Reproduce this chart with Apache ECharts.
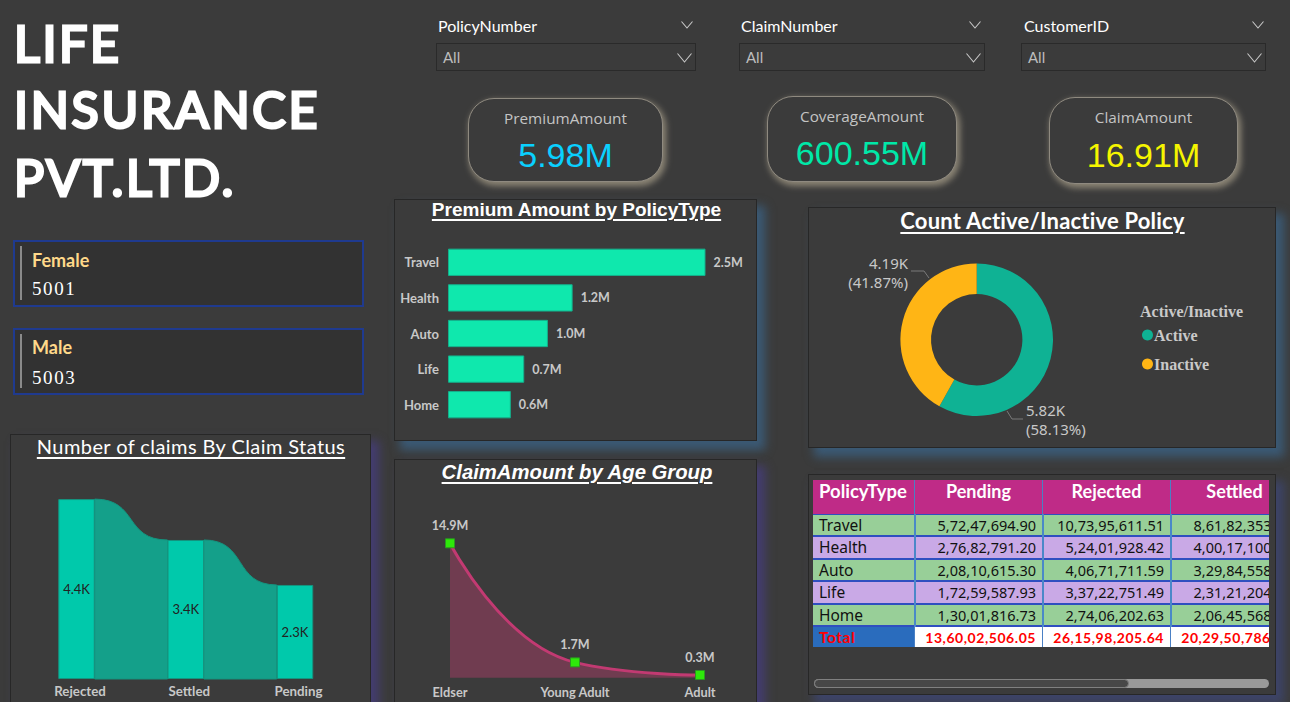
<!DOCTYPE html>
<html><head><meta charset="utf-8">
<script src="https://cdn.jsdelivr.net/npm/echarts@6/dist/echarts.min.js"></script>
<style>
html,body{margin:0;padding:0;background:#3b3b3b;width:1290px;height:702px;overflow:hidden}
.a{position:absolute;box-sizing:border-box;white-space:nowrap}
.panel{background:#3b3b3b;border:1px solid #272727}
.sb{box-shadow:7px 8px 9px 1px #3b5a75}
.sp{box-shadow:7px 8px 9px 1px #443d70}
.t{color:#fff;text-decoration:underline;text-align:center;text-decoration-thickness:1.5px;text-underline-offset:3px}
.hd{color:#fff;font:16px Lato}
.box{border:1px solid #2a2a2a;background:#3b3b3b;color:#bdbdbd;font:15px Lato;padding:4px 6px}
.card{border-radius:26px;border:1px solid #8f8a80;box-shadow:2px 3px 6px 1px #8d8676;background:#3b3b3b;text-align:center}
.cl{position:absolute;left:0;right:0;color:#c4c4c4;font:15.3px "Open Sans"}
.cv{position:absolute;left:0;right:0;font:34px "Liberation Sans"}
.g{background:#323232;border:2px solid #1f3a8f}
.gb{position:absolute;left:5px;top:4px;width:2px;height:54px;background:#8a8a8a}
.gl{position:absolute;left:17px;color:#ffd98a;font:bold 18px Lato}
.gv{position:absolute;left:17px;color:#fff;font:19px "Liberation Serif";letter-spacing:1.6px}
#tb div{position:absolute;box-sizing:border-box;overflow:hidden;white-space:nowrap}
svg{position:absolute}
</style></head><body>
<div id="page"></div>
<div id="main" class="a" style="left:0;top:0;width:1290px;height:702px"></div>
<script>
// Data
const titleLines = ['LIFE', 'INSURANCE', 'PVT.LTD.'];
const slicerNames = ['PolicyNumber', 'ClaimNumber', 'CustomerID'];
const cardLabels = ['PremiumAmount', 'CoverageAmount', 'ClaimAmount'];
const cardValues = ['5.98M', '600.55M', '16.91M'];
const genderLabels = ['Female', 'Male'];
const genderValues = ['5001', '5003'];
const claimStatus = ['Rejected', 'Settled', 'Pending'];
const claimCounts = [4400, 3400, 2300];
const policyTypes = ['Travel', 'Health', 'Auto', 'Life', 'Home'];
const premiumM = [2.50, 1.21, 0.97, 0.74, 0.61];
const ageGroups = ['Eldser', 'Young Adult', 'Adult'];
const claimAmountM = [14.9, 1.7, 0.3];
const activeNames = ['Active', 'Inactive'];
const activeCounts = [5820, 4192];
const tableColumns = ['PolicyType', 'Pending', 'Rejected', 'Settled'];
const pendingCol = ['5,72,47,694.90', '2,76,82,791.20', '2,08,10,615.30', '1,72,59,587.93', '1,30,01,816.73'];
const rejectedCol = ['10,73,95,611.51', '5,24,01,928.42', '4,06,71,711.59', '3,37,22,751.49', '2,74,06,202.63'];
const settledCol = ['8,61,82,353', '4,00,17,100', '3,29,84,558', '2,31,21,204', '2,06,45,568'];
const totalRow = ['Total', '13,60,02,506.05', '26,15,98,205.64', '20,29,50,786'];

// Page furniture
const page = document.getElementById('page');
let h = '';
const chev = (x, y, w, hh, c) => `<svg style="left:${x}px;top:${y}px" width="${w}" height="${hh}"><polyline points="0.5,0.5 ${w/2},${hh-1} ${w-0.5},0.5" fill="none" stroke="${c}" stroke-width="1.1"/></svg>`;
// title
[[14, 13], [14, 79], [14, 147]].forEach((p, i) => {
  h += `<div class="a" style="left:${p[0]}px;top:${p[1]}px;color:#fff;font:400 50px 'Lato';letter-spacing:2.7px;-webkit-text-stroke:3px #fff;stroke-linejoin:round" id="tl${i}">${titleLines[i]}</div>`;
});
// gender cards
[240, 328].forEach((y, i) => {
  h += `<div class="a g" style="left:13px;top:${y}px;width:351px;height:67px"><div class="gb"></div>
  <div class="gl" style="top:${i ? 6 : 7}px">${genderLabels[i]}</div><div class="gv" style="top:${i ? 37 : 36}px">${genderValues[i]}</div></div>`;
});
// slicers
[[438, 436, 260, 681], [741, 739, 246, 969], [1024, 1021, 245, 1252]].forEach((s, i) => {
  h += `<div class="a hd" style="left:${s[0]}px;top:16px">${slicerNames[i]}</div>` + chev(s[3], 21, 12, 8, '#c8c8c8');
  h += `<div class="a box" style="left:${s[1]}px;top:43px;width:${s[2]}px;height:28px">All</div>` + chev(s[1] + s[2] - 19, 53, 15, 10, '#c8c8c8');
});
// KPI cards
[[468, 98, 195, 84, '#0ad0ff', 9, 37], [767, 96, 190, 86, '#00e8a8', 9, 37], [1049, 97, 189, 87, '#f5f500', 9, 38]].forEach((c, i) => {
  h += `<div class="a card" style="left:${c[0]}px;top:${c[1]}px;width:${c[2]}px;height:${c[3]}px">
  <div class="cl" style="top:${c[5]}px">${cardLabels[i]}</div><div class="cv" style="top:${c[6]}px;color:${c[4]}">${cardValues[i]}</div></div>`;
});
// chart panels
h += `<div class="a panel sp" style="left:10px;top:434px;width:361px;height:300px"></div>`;
h += `<div class="a panel sb" style="left:394px;top:199px;width:363px;height:242px"></div>`;
h += `<div class="a panel sp" style="left:394px;top:459px;width:363px;height:300px"></div>`;
h += `<div class="a panel sb" style="left:808px;top:207px;width:468px;height:241px"></div>`;
h += `<div class="a panel" style="left:808px;top:474px;width:468px;height:221px;box-shadow:7px 8px 9px 1px #3d4468"></div>`;
// chart titles
h += `<div class="a t" style="left:10px;width:362px;top:434px;font:20px Lato;letter-spacing:.42px">Number of claims By Claim Status</div>`;
h += `<div class="a t" style="width:654px;left:249.5px;top:199px;font:bold 19px 'Liberation Sans'">Premium Amount by PolicyType</div>`;
h += `<div class="a t" style="left:250px;width:654px;top:461px;font:italic bold 20.3px 'Liberation Sans'">ClaimAmount by Age Group</div>`;
h += `<div class="a t" style="width:754px;left:665.5px;top:207px;font:bold 22px Lato;letter-spacing:.2px">Count Active/Inactive Policy</div>`;
h += `<div class="a" style="left:1140px;top:303px;color:#c9c9c9;font:bold 16px 'Liberation Serif'">Active/Inactive</div>`;
page.innerHTML = h;

// table
const colX = [813, 915, 1043, 1171], colW = [101, 127, 127, 127];
const rowY = [515, 537, 560, 582, 605], rowH = [20, 21, 20, 21, 20];
let t = `<div id="tb" class="a" style="left:813px;top:480px;width:456px;height:167px;overflow:hidden;background:#4a80c4">`;
const cell = (i, y, hh, bg, css, txt, hid) => `<div style="left:${colX[i]-813}px;top:${y-480}px;width:${colW[i]}px;height:${hh}px;background:${bg};${css}">${txt}${hid ? '<span style="visibility:hidden">.00</span>' : ''}</div>`;
tableColumns.forEach((c, i) => {
  t += cell(i, 480, 34, '#bf2b87', `color:#fff;font:bold ${i ? 18 : 18.5}px/23px Lato;text-align:${i ? 'center' : 'left'};padding-left:${i ? 0 : 6}px`, c);
});
t += `<div style="left:0;top:34px;width:456px;height:113px;background:#2f4fc0"></div>`;
policyTypes.forEach((p, r) => {
  const bg = r % 2 ? '#c9a9e6' : '#98cf98';
  const num = `color:#111;font:14.5px/21px 'Noto Sans';text-align:right;padding-right:6px`;
  t += cell(0, rowY[r], rowH[r], bg, `color:#111;font:15.5px/20px 'Noto Sans';padding-left:6px`, p);
  t += cell(1, rowY[r], rowH[r], bg, num, pendingCol[r]);
  t += cell(2, rowY[r], rowH[r], bg, num, rejectedCol[r]);
  t += cell(3, rowY[r], rowH[r], bg, num, settledCol[r], true);
});
totalRow.forEach((v, i) => {
  const font = i ? 'bold 14px/21px Lato' : 'bold 15.5px/21px Lato';
  t += cell(i, 627, 20, i ? '#fff' : '#2a6cbd', `color:#f00;font:${font};letter-spacing:.55px;text-align:${i ? 'right' : 'left'};padding:0 6px`, v, i === 3);
});
[914, 1042, 1170].forEach(x => { t += `<div style="left:${x-813}px;top:34px;width:1.5px;height:113px;background:#4a88c8"></div>`; });
t += `</div>`;
t += `<div class="a" style="left:814px;top:679px;width:455px;height:9px;background:#999;border-radius:5px"></div>`;
t += `<div class="a" style="left:814px;top:679px;width:315px;height:9px;background:#474747;border:1px solid #808080;border-radius:5px"></div>`;
page.insertAdjacentHTML('beforeend', t);

// Charts
const chart = echarts.init(document.getElementById('main'), null, {renderer: 'svg', width: 1290, height: 702});
const labelFont = {fontFamily: 'Lato', fontWeight: 'bold', fontSize: 13, color: '#c8c8c8'};
const ribbonBar = 36.5;
const ribbons = claimCounts.slice(0, -1).map((v, i) => [i, v, claimCounts[i + 1]]);
chart.setOption({
  animation: false,
  backgroundColor: 'transparent',
  grid: [
    {left: 21.9, width: 327.7, top: 495, height: 184},
    {left: 448, width: 309, top: 244.5, height: 178},
    {left: 450, width: 250, top: 542.4, height: 135.3}
  ],
  xAxis: [
    {gridIndex: 0, type: 'category', data: claimStatus, axisLine: {show: false}, axisTick: {show: false},
      axisLabel: {...labelFont, fontSize: 13.3, margin: 5, padding: [0, 0, 0, 7]}},
    {gridIndex: 1, type: 'value', min: 0, max: 3, show: false},
    {gridIndex: 2, type: 'category', data: ageGroups, boundaryGap: false, axisLine: {show: false}, axisTick: {show: false},
      axisLabel: {...labelFont, fontSize: 12.8, margin: 8}}
  ],
  yAxis: [
    {gridIndex: 0, type: 'value', min: 0, max: 4500, show: false},
    {gridIndex: 1, type: 'category', data: policyTypes, inverse: true, axisLine: {show: false}, axisTick: {show: false},
      axisLabel: {...labelFont, margin: 9}},
    {gridIndex: 2, type: 'value', min: 0, max: 15, show: false}
  ],
  legend: {
    orient: 'vertical', left: 1142, top: 327, padding: 0, itemWidth: 11, itemHeight: 11, itemGap: 13, icon: 'circle',
    data: activeNames,
    textStyle: {fontFamily: 'Liberation Serif', fontWeight: 'bold', fontSize: 16, color: '#c9c9c9', padding: [0, 0, 0, -4]}
  },
  series: [
    {type: 'custom', xAxisIndex: 0, yAxisIndex: 0, z: 1, data: ribbons, encode: {x: 0, y: 1},
      renderItem(params, api) {
        const i = api.value(0);
        const a = api.coord([i, api.value(1)]), b = api.coord([i + 1, api.value(2)]), base = api.coord([i, 0]);
        const x0 = a[0] + ribbonBar / 2, x1 = b[0] - ribbonBar / 2, w = x1 - x0;
        const c0 = x0 + w * 0.6, c1 = x1 - w * 0.6;
        return {type: 'path', shape: {pathData: `M${x0} ${a[1]}C${c0} ${a[1]} ${c1} ${b[1]} ${x1} ${b[1]}L${x1} ${base[1]}L${x0} ${base[1]}Z`, layout: 'none'},
          style: {fill: '#14a08a', stroke: '#14947f', lineWidth: 1}};
      }},
    {type: 'bar', xAxisIndex: 0, yAxisIndex: 0, z: 2, data: claimCounts, barWidth: ribbonBar,
      itemStyle: {color: '#00c9ab', borderColor: '#14947f', borderWidth: 1},
      label: {show: true, position: 'inside', fontFamily: 'Lato', fontSize: 13, color: '#222',
        formatter: p => (p.value / 1000).toFixed(1) + 'K'}},
    {type: 'bar', xAxisIndex: 1, yAxisIndex: 1, data: premiumM, barWidth: 27.3,
      itemStyle: {color: '#0fe8ad', borderColor: '#14b08c', borderWidth: 1},
      label: {show: true, position: 'right', distance: 8, ...labelFont, fontSize: 12.5, formatter: p => p.value.toFixed(1) + 'M'}},
    {type: 'line', xAxisIndex: 2, yAxisIndex: 2, data: claimAmountM, smooth: 0.5,
      symbol: 'rect', symbolSize: 9, showAllSymbol: true,
      lineStyle: {color: '#c23a72', width: 3},
      itemStyle: {color: '#2ee80a', borderColor: '#2a9a20', borderWidth: 1},
      areaStyle: {color: '#703c50', opacity: 1},
      label: {show: true, position: 'top', distance: 6, ...labelFont, fontSize: 12.5, formatter: p => p.value.toFixed(1) + 'M'}},
    {type: 'pie', center: [976.7, 339.7], radius: [45.7, 76.3], startAngle: 90, clockwise: true,
      data: activeNames.map((n, i) => ({name: n, value: activeCounts[i]})),
      color: ['#0fb294', '#ffb515'],
      percentPrecision: 2,
      label: {fontFamily: 'Noto Sans', fontSize: 15, lineHeight: 19, color: '#c8c8c8', alignTo: 'none',
        formatter: p => (p.value / 1000).toFixed(2) + 'K\n(' + p.percent.toFixed(2) + '%)'},
      labelLayout: p => p.dataIndex === 0
        ? {x: 1026, y: 419, align: 'left', verticalAlign: 'middle', labelLinePoints: [[1007, 411], [1012, 419], [1023, 419]]}
        : {x: 908, y: 272, align: 'right', verticalAlign: 'middle', labelLinePoints: [[929, 278], [924, 271], [911, 271]]},
      labelLine: {show: true, length: 9, length2: 12, lineStyle: {color: '#7a7a7a', width: 1}},
      emphasis: {disabled: true}}
  ]
});
</script>
</body></html>
